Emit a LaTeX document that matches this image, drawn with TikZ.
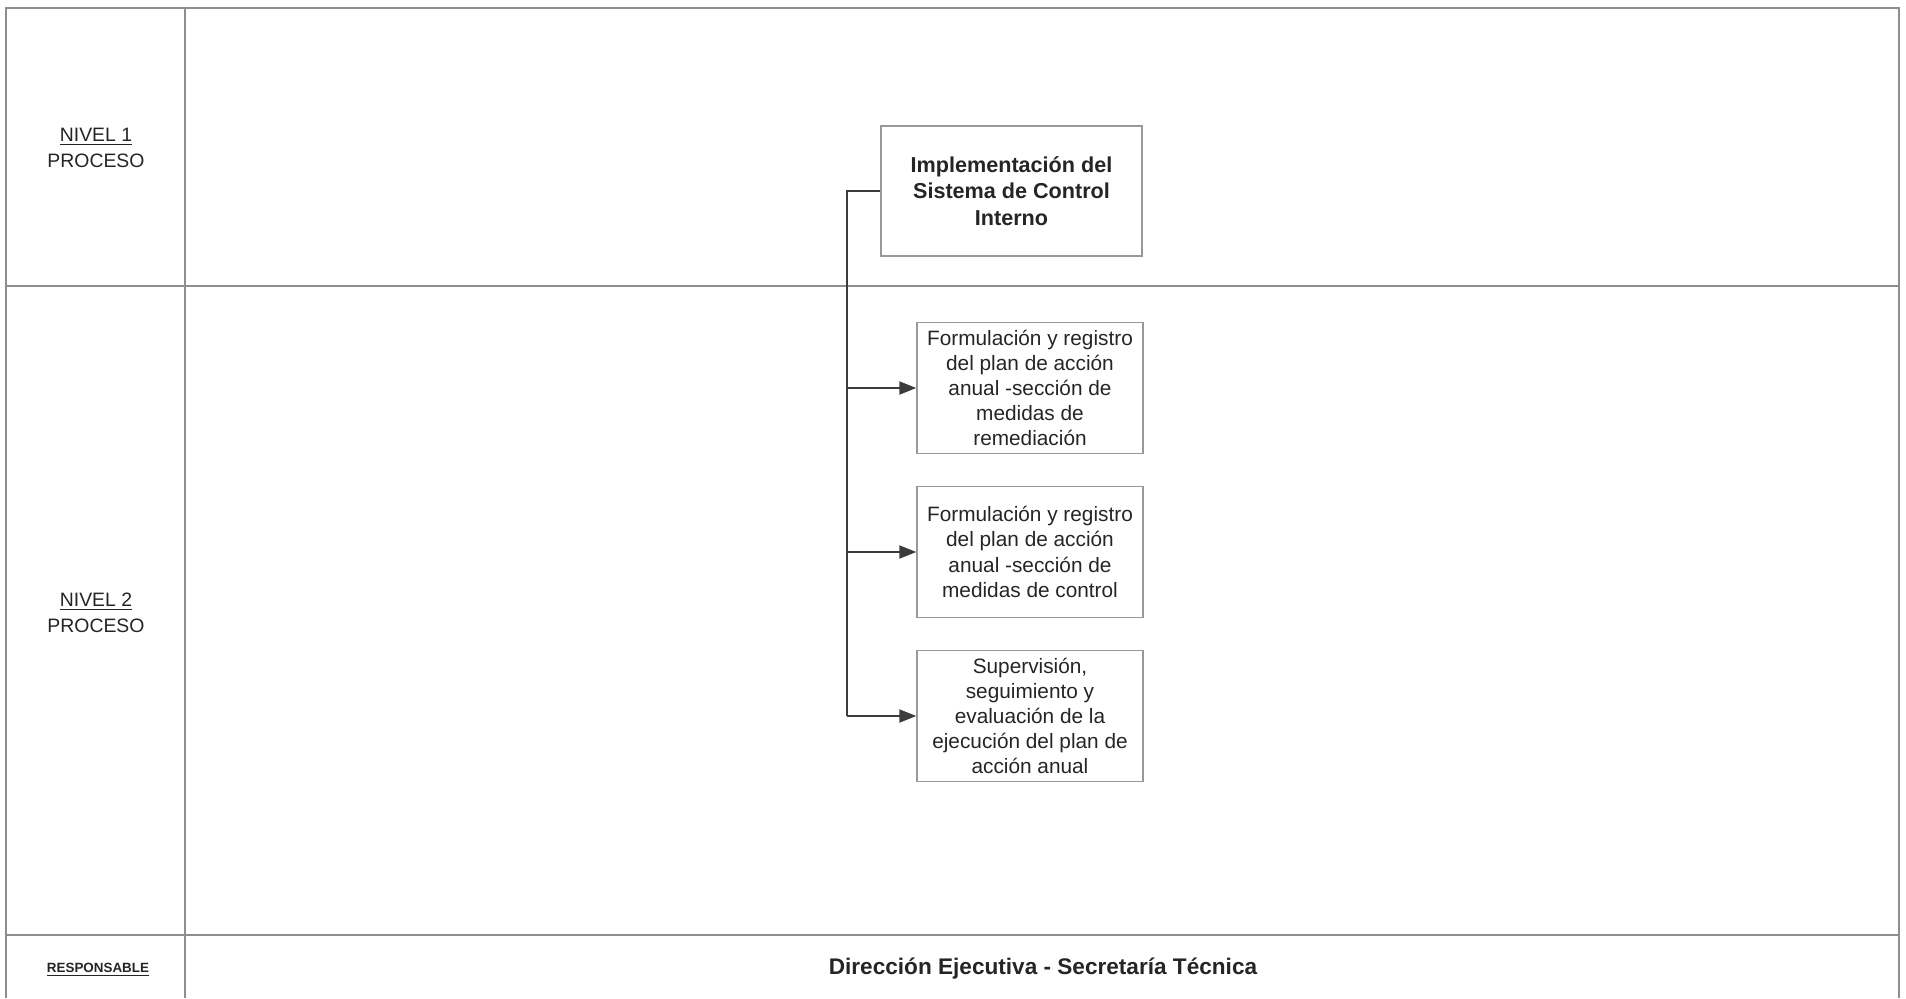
\documentclass[tikz,border=0pt]{standalone}
\usepackage{fontspec}
\setmainfont{Liberation Sans}
\usetikzlibrary{arrows.meta, positioning}
\definecolor{tablegray}{HTML}{8E8E8E}
\definecolor{boxgray}{HTML}{999999}
\definecolor{wiregray}{HTML}{3C3C3C}
\definecolor{inkgray}{HTML}{252525}

\begin{document}
\begin{tikzpicture}[x=0.5pt,y=-0.5pt,node distance=82pt,on grid,>={Triangle[length=8.5pt,width=6.5pt]},
      tabline/.style={draw=tablegray,line width=0.6pt},
      box/.style={draw=boxgray,line width=0.7pt,minimum width=113pt,minimum height=65.5pt,
        inner sep=0pt,align=center,text=inkgray,font=\fontsize{10.4}{12.6}\selectfont},
      rowtext/.style={align=center,text=inkgray,font=\fontsize{9.7}{13}\selectfont},
      wire/.style={draw=wiregray,line width=1pt}
      ]
      \useasboundingbox (0,0) rectangle (1906,998);
      % table
      \draw[tabline] (6,998) -- (6,8) -- (1899,8) -- (1899,998);
      \draw[tabline] (185,8) -- (185,998);
      \draw[tabline] (6,286) -- (1899,286);
      \draw[tabline] (6,935) -- (1899,935);
      \node[rowtext] (n_1) at (96,148) {\underline{NIVEL 1}\\PROCESO};
      \node[rowtext] (n_2) at (96,613) {\underline{NIVEL 2}\\PROCESO};
      \node[rowtext,font=\fontsize{6.7}{8}\selectfont\bfseries] (resp) at (98,970) {\underline{RESPONSABLE}};
      \node[rowtext,font=\fontsize{11.3}{13}\selectfont\bfseries] (dir) at (1043,969) {Dirección Ejecutiva - Secretaría Técnica};
      % processes
      \node[box,minimum width=130.5pt,minimum height=65pt,font=\fontsize{10.8}{13.25}\selectfont\bfseries]
        (impl) at (1011.5,191) {Implementación del\\Sistema de Control\\Interno};
      \node[box] (rem) at (1030,388) {Formulación y registro\\del plan de acción\\anual -sección de\\medidas de\\remediación};
      \node[box] (ctrl) [below=of rem] {Formulación y registro\\del plan de acción\\anual -sección de\\medidas de control};
      \node[box] (sup) [below=of ctrl] {Supervisión,\\seguimiento y\\evaluación de la\\ejecución del plan de\\acción anual};
      \coordinate[left=16.5pt of impl.west] (trunk);
      \draw[wire] (impl.west) -- (trunk) -- (trunk |- sup.west);
      \foreach \n in {rem,ctrl,sup}
        \draw[wire,->] (trunk |- \n.west) -- (\n.west);
    \end{tikzpicture}
\end{document}
